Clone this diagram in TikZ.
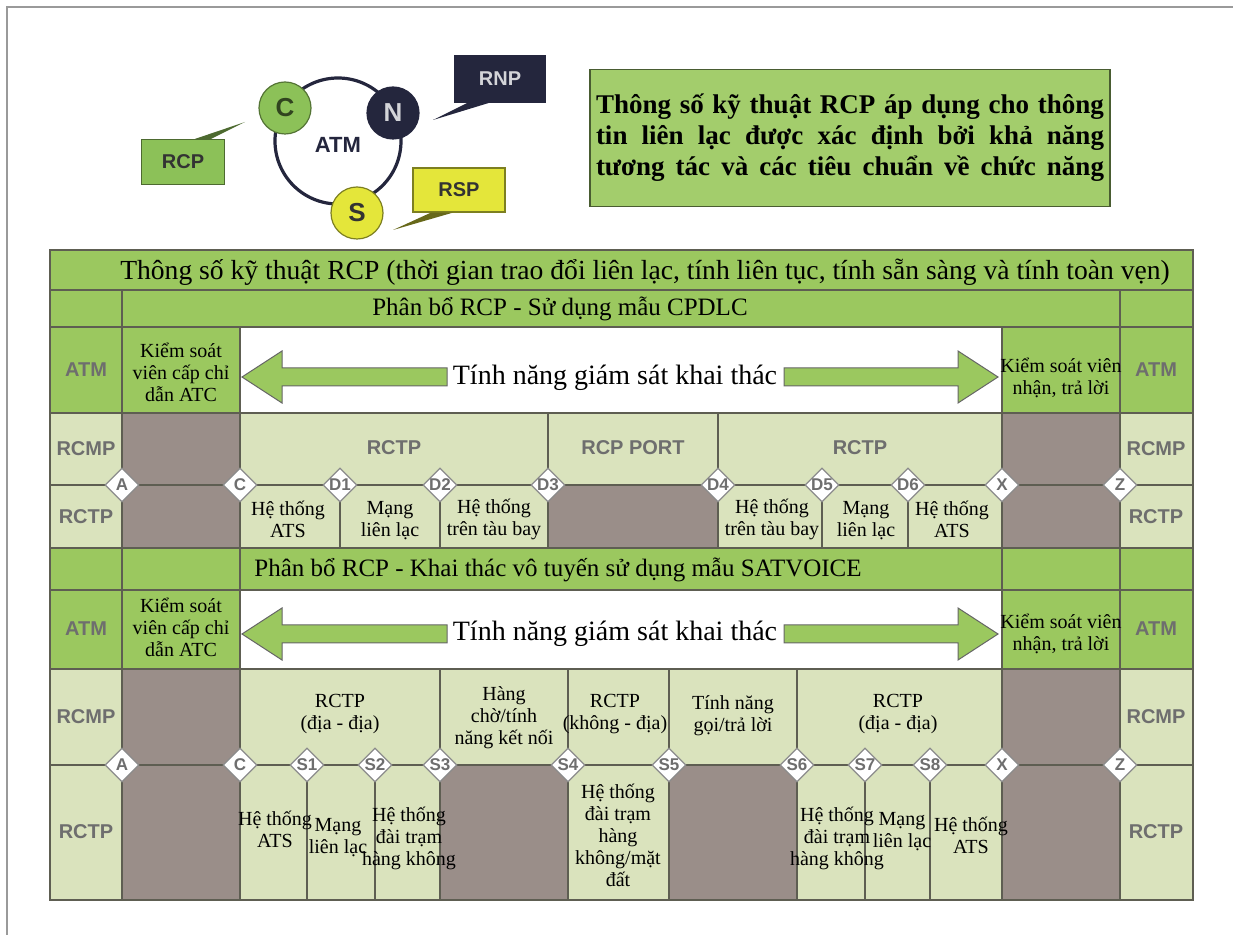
\documentclass[tikz,border=0pt]{standalone}
\usepackage{fontspec}
\setmainfont{Liberation Serif}
\setsansfont{Liberation Sans}
\usepackage{xcolor}
\usepackage{tikz}
\usetikzlibrary{shapes.geometric,positioning,calc}
\definecolor{RCPgreen}{HTML}{9BC85F}
\definecolor{RCPpale}{HTML}{DAE3BD}
\definecolor{RCPtaupe}{HTML}{9A8E89}
\definecolor{RCPgrid}{HTML}{5E5E52}
\definecolor{RCPlabel}{HTML}{6E6E6E}
\definecolor{RCPnavy}{HTML}{24263D}
\definecolor{RCPyellow}{HTML}{E4E63A}
\definecolor{RCPleaf}{HTML}{8CC158}
\definecolor{RCPbox}{HTML}{A3CD6C}
\definecolor{RCPframe}{HTML}{9A9A9A}

\tikzset{
  gridline/.style={RCPgrid, line width=0.6pt},
  lbl/.style={font=\sffamily\bfseries\fontsize{10}{12}\selectfont, text=RCPlabel, inner sep=0pt},
  txt/.style={font=\fontsize{10}{11}\selectfont, align=center, inner sep=0pt},
  big/.style={font=\fontsize{12.5}{14}\selectfont, inner sep=0pt},
  refpt/.style={diamond, draw=RCPlabel!80, fill=white, line width=0.6pt, inner sep=0pt,
                minimum width=17pt, minimum height=17pt,
                font=\sffamily\bfseries\fontsize{8.5}{9}\selectfont, text=RCPlabel},
  blockarrow/.style={fill=RCPgreen, draw=gray!80!black, line width=0.5pt},
  tagbox/.style={rectangle, inner sep=0pt, line width=0.6pt,
                 font=\sffamily\bfseries\fontsize{10}{12}\selectfont},
  ball/.style={circle, inner sep=0pt, minimum size=26pt, line width=0.6pt,
               font=\sffamily\bfseries\fontsize{13}{14}\selectfont}
}

\begin{document}
\begin{tikzpicture}[x=0.5pt,y=-0.5pt]
\useasboundingbox (0,0) rectangle (1233,935);
% page frame
\draw[RCPframe, line width=1.2pt] (7,935) -- (7,7) -- (1233,7);

% ATM ring with C, N, S
\draw[RCPnavy, line width=1.6pt] (338,141) circle[radius=31.5pt];
\node[font=\sffamily\bfseries\fontsize{11}{12}\selectfont, text=RCPnavy] (atm) at (338,145) {ATM};
\node[ball, fill=RCPleaf, draw=RCPleaf!60!black, text=RCPleaf!35!black] (cc) at (285,108) {C};
\node[ball, fill=RCPnavy, draw=RCPnavy, text=white!80!RCPnavy] (nn) at (393,113) {N};
\node[ball, fill=RCPyellow, draw=RCPyellow!55!black, text=black!80] (ss) at (357,213) {S};

\node[tagbox, fill=RCPleaf, draw=RCPleaf!55!black, text=black!80, minimum width=41.5pt, minimum height=22.5pt] (rcp) at (183,162) {RCP};
\node[tagbox, fill=RCPnavy, draw=RCPnavy, text=white!80!RCPnavy, minimum width=45pt, minimum height=23pt] (rnp) at (500,79) {RNP};
\node[tagbox, fill=RCPyellow, draw=RCPyellow!55!black, text=black!80, minimum width=46pt, minimum height=22pt] (rsp) at (459,190) {RSP};
\coordinate (rcptip) at (245,122);
\coordinate (rnptip) at (433,120);
\coordinate (rsptip) at (393,230);
\fill[RCPleaf!55!black] ([xshift=6pt]rcp.north) -- (rcptip) -- ([xshift=14pt]rcp.north) -- cycle;
\fill[RCPnavy] ([xshift=-16pt]rnp.south) -- (rnptip) -- ([xshift=-5pt]rnp.south) -- cycle;
\fill[RCPyellow!45!black] ([xshift=-14pt]rsp.south) -- (rsptip) -- ([xshift=-3pt]rsp.south) -- cycle;

% note box
\node[fill=RCPbox, draw=RCPbox!45!black, line width=0.6pt, minimum width=260pt, minimum height=68.5pt,
      inner sep=0pt, align=left, font=\bfseries\fontsize{13.5}{15.5}\selectfont] (spec) at (850,138)
  {\makebox[254pt][s]{Thông số kỹ thuật RCP áp dụng cho thông}\\
   \makebox[254pt][s]{tin liên lạc được xác định bởi khả năng}\\
   \makebox[254pt][s]{tương tác và các tiêu chuẩn về chức năng}};

% table fills
\fill[RCPpale] (50,250) rectangle (1193,900);
\fill[RCPgreen] (50,250) rectangle (1193,327);
\fill[RCPgreen] (50,327) rectangle (240,413);
\fill[RCPgreen] (1002,327) rectangle (1193,413);
\fill[white] (240,327) rectangle (1002,413);
\fill[RCPgreen] (50,548) rectangle (1193,590);
\fill[RCPgreen] (50,590) rectangle (240,669);
\fill[RCPgreen] (1002,590) rectangle (1193,669);
\fill[white] (240,590) rectangle (1002,669);
\foreach \xa/\ya/\xb/\yb in {122/413/240/548, 1002/413/1120/548, 548/485/718/548,
    122/669/240/900, 1002/669/1120/900, 440/765/568/900, 669/765/797/900}
  \fill[RCPtaupe] (\xa,\ya) rectangle (\xb,\yb);

% grid
\foreach \yy in {290,327,413,485,548,590,669,765}
  \draw[gridline] (50,\yy) -- (1193,\yy);
\foreach \xx/\ya/\yb in {122/290/900, 1120/290/900, 240/327/900, 1002/327/900,
    548/413/548, 718/413/548, 340/485/548, 440/485/548, 822/485/548, 908/485/548,
    440/669/900, 568/669/900, 669/669/900, 797/669/900,
    307/765/900, 375/765/900, 865/765/900, 930/765/900}
  \draw[gridline] (\xx,\ya) -- (\xx,\yb);
\draw[RCPgrid, line width=1pt] (50,250) rectangle (1193,900);

% monitoring arrows
\foreach \ry in {377,634}{
  \filldraw[blockarrow] (242,\ry) -- (282,\ry-26) -- (282,\ry-9) -- (447,\ry-9)
    -- (447,\ry+9) -- (282,\ry+9) -- (282,\ry+26) -- cycle;
  \filldraw[blockarrow] (998,\ry) -- (958,\ry-26) -- (958,\ry-9) -- (784,\ry-9)
    -- (784,\ry+9) -- (958,\ry+9) -- (958,\ry+26) -- cycle;
}

% reference points
\foreach \px/\tag [count=\k] in {122/A, 240/C, 340/D1, 440/D2, 548/D3, 718/D4, 822/D5, 908/D6, 1002/X, 1120/Z}
  \node[refpt] (up\k) at (\px,485) {\tag};
\foreach \px/\tag [count=\k] in {122/A, 240/C, 307/S1, 375/S2, 440/S3, 568/S4, 669/S5, 797/S6, 865/S7, 930/S8, 1002/X, 1120/Z}
  \node[refpt] (lo\k) at (\px,765) {\tag};

% headers
\node[big, font=\fontsize{13.8}{15}\selectfont] (hdr) at (645,272) {Thông số kỹ thuật RCP (thời gian trao đổi liên lạc, tính liên tục, tính sẵn sàng và tính toàn vẹn)};
\node[big] (cpdlc) at (560,309) {Phân bổ RCP - Sử dụng mẫu CPDLC};
\node[big] (satv) at (558,570) {Phân bổ RCP - Khai thác vô tuyến sử dụng mẫu SATVOICE};

% side labels
\foreach \sx [count=\k] in {86,1156}{
  \node[lbl] (atmA\k) at (\sx,370) {ATM};
  \node[lbl] (rcmpA\k) at (\sx,449) {RCMP};
  \node[lbl] (rctpA\k) at (\sx,517) {RCTP};
  \node[lbl] (atmB\k) at (\sx,629) {ATM};
  \node[lbl] (rcmpB\k) at (\sx,717) {RCMP};
  \node[lbl] (rctpB\k) at (\sx,832) {RCTP};
}

% CPDLC part
\node[txt] (ctlA) at (181,372) {Kiểm soát\\viên cấp chỉ\\dẫn ATC};
\node[txt] (ansA) at (1061,378) {Kiểm soát viên\\nhận, trả lời};
\node[big, font=\fontsize{14}{16}\selectfont] (monA) at (615,378) {Tính năng giám sát khai thác};
\node[lbl] (rctp1) at (394,448) {RCTP};
\node[lbl] (port) at (633,448) {RCP PORT};
\node[lbl] (rctp2) at (860,448) {RCTP};
\node[txt] (atsA) at (288,519) {Hệ thống\\ATS};
\node[txt] (netA) at (390,521) {Mạng\\liên lạc};
\node[txt] (acA) at (494,519) {Hệ thống\\trên tàu bay};
\node[txt] (acB) at (772,519) {Hệ thống\\trên tàu bay};
\node[txt] (netB) at (866,521) {Mạng\\liên lạc};
\node[txt] (atsB) at (952,519) {Hệ thống\\ATS};

% SATVOICE part
\node[txt] (ctlB) at (181,627) {Kiểm soát\\viên cấp chỉ\\dẫn ATC};
\node[txt] (ansB) at (1061,634) {Kiểm soát viên\\nhận, trả lời};
\node[big, font=\fontsize{14}{16}\selectfont] (monB) at (615,634) {Tính năng giám sát khai thác};
\node[txt] (ggA) at (340,714) {RCTP\\(địa - địa)};
\node[txt] (queue) at (504,718) {Hàng\\chờ/tính\\năng kết nối};
\node[txt] (ag) at (615,714) {RCTP\\(không - địa)};
\node[txt] (call) at (733,716) {Tính năng\\gọi/trả lời};
\node[txt] (ggB) at (898,714) {RCTP\\(địa - địa)};
\node[txt] (atsC) at (275,829) {Hệ thống\\ATS};
\node[txt] (netC) at (338,838) {Mạng\\liên lạc};
\node[txt] (stnA) at (409,838) {Hệ thống\\đài trạm\\hàng không};
\node[txt] (stnB) at (618,835) {Hệ thống\\đài trạm\\hàng\\không/mặt\\đất};
\node[txt] (stnC) at (837,838) {Hệ thống\\đài trạm\\hàng không};
\node[txt] (netD) at (902,832) {Mạng\\liên lạc};
\node[txt] (atsD) at (971,835) {Hệ thống\\ATS};
\end{tikzpicture}
\end{document}
